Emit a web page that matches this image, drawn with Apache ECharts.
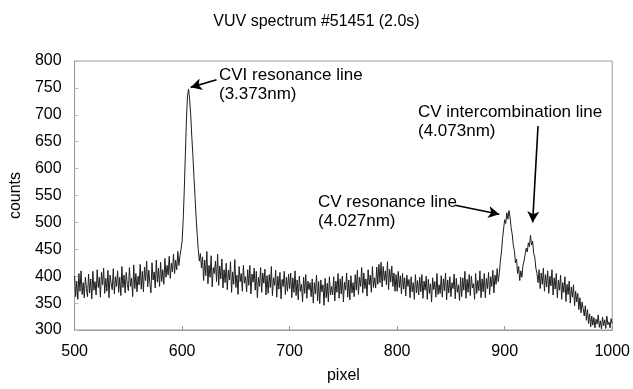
<!DOCTYPE html>
<html>
<head>
<meta charset="utf-8">
<script src="https://cdn.jsdelivr.net/npm/echarts@6/dist/echarts.min.js"></script>
<style>
html,body{margin:0;padding:0;background:#fff;}
#chart{width:633px;height:389px;}
</style>
</head>
<body>
<div id="chart"></div>
<script>
// ---- data ----
const titleText = 'VUV spectrum #51451 (2.0s)';
const xAxisName = 'pixel';
const yAxisName = 'counts';
const pixelStart = 500;   // first sampled pixel
const pixelStep = 1;      // one sample per detector pixel
const counts = [
  400, 362, 391, 357, 405, 372, 410, 366, 388, 360, 398, 377, 362, 404, 369, 395, 358, 409, 374, 390,
  365, 412, 379, 398, 361, 407, 384, 415, 368, 396, 372, 411, 360, 402, 386, 375, 414, 367, 399, 381,
  410, 370, 398, 364, 418, 379, 402, 369, 407, 385, 373, 416, 381, 396, 362, 421, 377, 405, 371, 400,
  384, 422, 376, 409, 371, 417, 392, 428, 380, 411, 387, 369, 425, 393, 408, 378, 430, 389, 415, 381,
  426, 390, 412, 385, 433, 398, 420, 402, 437, 396, 424, 408, 441, 405, 430, 412, 446, 420, 438, 450,
  465, 505, 560, 625, 690, 735, 748, 728, 700, 660, 625, 585, 548, 510, 478, 450, 428, 442, 415, 436,
  392, 430, 401, 446, 386, 420, 398, 438, 380, 416, 405, 428, 390, 441, 383, 419, 395, 432, 378, 412,
  388, 424, 375, 411, 393, 427, 370, 408, 385, 431, 379, 402, 366, 418, 390, 405, 372, 420, 387, 399,
  371, 412, 383, 420, 367, 404, 389, 415, 374, 409, 360, 398, 381, 416, 370, 406, 387, 413, 365, 401,
  368, 403, 379, 418, 364, 397, 383, 411, 361, 400, 376, 407, 358, 394, 381, 409, 366, 398, 372, 404,
  377, 406, 360, 397, 370, 410, 364, 393, 356, 400, 372, 385, 352, 398, 368, 403, 359, 391, 375, 388,
  362, 395, 350, 388, 367, 402, 354, 390, 349, 393, 371, 384, 346, 396, 360, 387, 352, 399, 365, 381,
  365, 399, 354, 391, 370, 405, 359, 395, 367, 400, 352, 389, 374, 406, 361, 393, 356, 401, 369, 388,
  362, 403, 374, 411, 366, 398, 381, 416, 369, 406, 377, 395, 363, 412, 384, 402, 370, 418, 379, 397,
  378, 417, 385, 422, 388, 426, 380, 418, 392, 410, 384, 427, 375, 413, 389, 419, 381, 406, 372, 403,
  372, 409, 379, 401, 367, 405, 376, 397, 363, 402, 381, 394, 360, 399, 371, 388, 357, 403, 369, 392,
  365, 398, 371, 403, 359, 391, 374, 400, 357, 394, 368, 386, 352, 397, 375, 390, 361, 405, 366, 384,
  368, 401, 361, 395, 373, 406, 356, 393, 369, 399, 362, 388, 377, 404, 358, 396, 370, 384, 355, 398,
  362, 397, 374, 409, 359, 394, 370, 403, 364, 400, 378, 386, 357, 405, 368, 392, 373, 410, 360, 395,
  371, 405, 360, 396, 377, 407, 366, 399, 381, 411, 369, 402, 385, 414, 390, 405, 428, 445, 470, 488,
  505, 498, 518, 506, 522, 510, 490, 478, 458, 448, 425, 432, 405, 418, 392, 410, 398, 420, 428, 440,
  452, 445, 462, 455, 476, 458, 465, 442, 435, 415, 405, 388, 412, 377, 406, 385, 415, 372, 403, 380,
  410, 368, 400, 382, 412, 365, 397, 376, 405, 360, 393, 374, 402, 357, 388, 370, 399, 353, 385, 366,
  391, 350, 380, 361, 384, 345, 372, 352, 368, 338, 360, 332, 352, 340, 326, 345, 318, 338, 312, 330,
  306, 326, 309, 323, 304, 320, 311, 328, 305, 317, 302, 324, 308, 319, 303, 326, 310, 315, 304, 321,
  312
];
const xTicks = [500, 600, 700, 800, 900, 1000];
const yTicks = [300, 350, 400, 450, 500, 550, 600, 650, 700, 750, 800];
// annotations: label lines, arrow start (pixel,count) and arrow tip (pixel,count)
const annotCVI = ['CVI resonance line', '(3.373nm)'];
const annotCVres = ['CV resonance line', '(4.027nm)'];
const annotCVint = ['CV intercombination line', '(4.073nm)'];
const arrowCVI = [[632, 765], [608, 751]];
const arrowCVres = [[854, 532], [895, 515]];
const arrowCVint = [[931, 679], [926, 500]];

// ---- build ----
const seriesData = counts.map((v, i) => [pixelStart + i * pixelStep, v]);
const FONT = '"Liberation Sans", Arial, sans-serif';

function arrow(a) {
  return [{coord: a[0], symbol: 'none'}, {coord: a[1], symbol: 'arrow'}];
}

const chart = echarts.init(document.getElementById('chart'), null, {renderer: 'canvas'});
chart.setOption({
  animation: false,
  backgroundColor: '#fff',
  title: {
    text: titleText,
    left: 'center',
    top: 9,
    textStyle: {fontFamily: FONT, fontSize: 16, fontWeight: 'normal', color: '#000'}
  },
  grid: {
    left: 72, right: 20, top: 61, bottom: 56,
    show: true, borderColor: '#999', borderWidth: 1, backgroundColor: '#fff'
  },
  xAxis: {
    type: 'value',
    min: xTicks[0], max: xTicks[xTicks.length - 1], interval: 100,
    name: xAxisName, nameLocation: 'middle', nameGap: 38,
    nameTextStyle: {fontFamily: FONT, fontSize: 16, color: '#000'},
    axisLine: {show: true, lineStyle: {color: '#999'}},
    axisTick: {show: true, inside: true, length: 4, lineStyle: {color: '#999'}},
    axisLabel: {fontFamily: FONT, fontSize: 16, color: '#000', margin: 14, formatter: v => String(v)},
    splitLine: {show: false}
  },
  yAxis: {
    type: 'value',
    min: yTicks[0], max: yTicks[yTicks.length - 1], interval: 50,
    name: yAxisName, nameLocation: 'middle', nameGap: 47,
    nameTextStyle: {fontFamily: FONT, fontSize: 16, color: '#000'},
    axisLine: {show: true, lineStyle: {color: '#999'}},
    axisTick: {show: true, inside: true, length: 4, lineStyle: {color: '#bbb'}},
    axisLabel: {fontFamily: FONT, fontSize: 16, color: '#000', margin: 13, formatter: v => String(v)},
    splitLine: {show: false}
  },
  series: [{
    type: 'line',
    data: seriesData,
    showSymbol: false,
    symbol: 'none',
    lineStyle: {color: '#1e1e1e', width: 1},
    silent: true,
    markLine: {
      silent: true,
      symbolSize: [9, 11],
      label: {show: false},
      lineStyle: {color: '#000', width: 1.6, type: 'solid'},
      data: [arrow(arrowCVI), arrow(arrowCVres), arrow(arrowCVint)]
    }
  }],
  graphic: [
    {type: 'text', left: 219, top: 66, style: {text: annotCVI.join('\n'), font: '17px ' + FONT, fill: '#000', lineHeight: 19}},
    {type: 'text', left: 318, top: 193, style: {text: annotCVres.join('\n'), font: '17px ' + FONT, fill: '#000', lineHeight: 19}},
    {type: 'text', left: 418, top: 103, style: {text: annotCVint.join('\n'), font: '17px ' + FONT, fill: '#000', lineHeight: 19}}
  ]
});
</script>
</body>
</html>
